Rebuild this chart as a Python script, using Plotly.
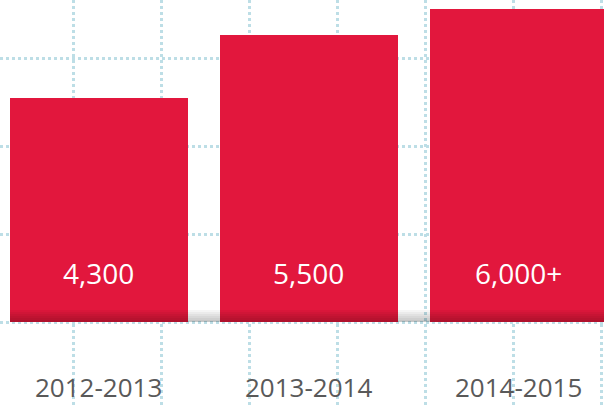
import plotly.graph_objects as go

# Student counts per academic year
seasons = ["2012-2013", "2013-2014", "2014-2015"]
counts = [4300, 5500, 6000]
count_labels = ["4,300", "5,500", "6,000+"]

BAR_RED = "#E2173D"
GRID_BLUE = "#bddee6"
LABEL_GREY = "#595959"

positions = list(range(len(seasons)))
bar_width = 0.8476

fig = go.Figure()
fig.add_trace(go.Bar(
    x=positions,
    y=counts,
    width=bar_width,
    marker=dict(color=BAR_RED, line=dict(width=0)),
    hoverinfo="skip",
    showlegend=False,
))

# value labels sit at a common height inside the bars
for pos, txt in zip(positions, count_labels):
    fig.add_annotation(
        x=pos, y=0.331, xref="x", yref="paper",
        text=txt, showarrow=False,
        font=dict(family="Open Sans", size=28, color="white"),
        xanchor="center", yanchor="middle",
    )

# season labels under the baseline
for pos, season in zip(positions, seasons):
    fig.add_annotation(
        x=pos, y=0.051, xref="x", yref="paper",
        text=season, showarrow=False,
        font=dict(family="Open Sans", size=26, color=LABEL_GREY),
        xanchor="center", yanchor="middle",
    )

# soft shadow along the base of the bars
left_edge = positions[0] - bar_width / 2
right_edge = positions[-1] + bar_width / 2 + 1
for h in [2, 4, 6, 8, 10, 12]:
    fig.add_shape(
        type="rect", layer="above",
        xref="x", x0=left_edge, x1=right_edge,
        yref="y", ysizemode="pixel", yanchor=0, y0=0, y1=h,
        fillcolor="black", opacity=0.04, line=dict(width=0),
    )

grid_style = dict(
    showgrid=True, gridcolor=GRID_BLUE, gridwidth=2.5, griddash="3px,3px",
    showticklabels=False, ticks="", zeroline=False, showline=False,
    fixedrange=True,
)

fig.update_layout(
    width=604, height=408,
    margin=dict(l=0, r=0, t=0, b=0),
    paper_bgcolor="white",
    plot_bgcolor="white",
    bargap=0,
    xaxis=dict(range=[-0.4714, 2.4048], tick0=-0.11905, dtick=0.419048, **grid_style),
    yaxis=dict(range=[-1647.5, 6168.6], tick0=0, dtick=1685.8, **grid_style),
)

fig.write_html("out.html", config={"displayModeBar": False})
